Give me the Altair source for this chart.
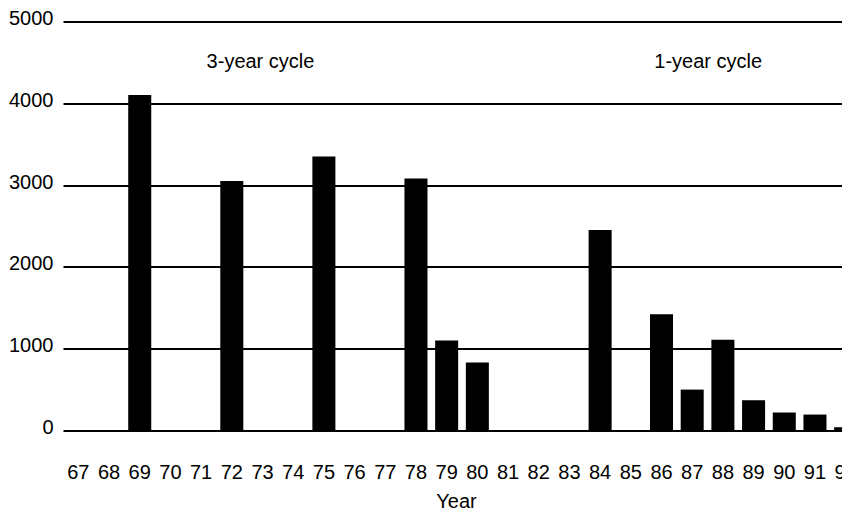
import altair as alt
import pandas as pd

years = [str(y) for y in range(67, 93)]
values = [0, 0, 4100, 0, 0, 3050, 0, 0, 3350, 0, 0, 3080, 1100, 830,
          0, 0, 0, 2450, 0, 1420, 500, 1110, 370, 220, 195, 40]
note_text = ["3-year cycle", "1-year cycle"]
note_year = ["73", "87"]
note_value = [4500, 4500]
y_ticks = [0, 1000, 2000, 3000, 4000, 5000]

FONT = "Liberation Sans Narrow, Arial Narrow, Liberation Sans, sans-serif"
FS = 20

df = pd.DataFrame({"year": years, "value": values})
notes = pd.DataFrame({"text": note_text, "year": note_year, "value": note_value})

xscale = alt.Scale(domain=years, range=[0, 798], paddingInner=0.25, paddingOuter=0.125)
yscale = alt.Scale(domain=[0, 5000], nice=False)

bars = alt.Chart(df).mark_bar(color="black").encode(
    x=alt.X("year:N", scale=xscale, sort=None,
            axis=alt.Axis(title="Year", labelAngle=0, ticks=False, domain=False,
                          labelPadding=32, titlePadding=9, labelFontSize=FS,
                          titleFontSize=FS, titleFontWeight="normal",
                          labelFont=FONT, titleFont=FONT, labelColor="black",
                          titleColor="black", grid=False, titleX=393)),
    y=alt.Y("value:Q", scale=yscale,
            axis=alt.Axis(title=None, values=y_ticks, format="d", ticks=False,
                          domain=False, grid=True, gridColor="black", gridWidth=2,
                          gridOpacity=1, labelPadding=10, labelFontSize=FS,
                          labelFont=FONT, labelColor="black", labelOffset=-3)),
)


def note(idx, dx):
    return alt.Chart(notes.iloc[[idx]]).mark_text(
        fontSize=FS, font=FONT, color="black", baseline="middle", dx=dx
    ).encode(
        x=alt.X("year:N", scale=xscale, sort=None),
        y=alt.Y("value:Q", scale=yscale),
        text="text:N",
    )


chart = alt.layer(bars, note(0, -2), note(1, 16)).properties(
    width=779, height=409,
    autosize=alt.AutoSizeParams(type="none"),
    padding={"left": 55, "top": 13.5, "right": 0, "bottom": 80.5},
).configure_view(stroke=None)

chart.save("out.html", embed_options={"renderer": "svg", "actions": False})
